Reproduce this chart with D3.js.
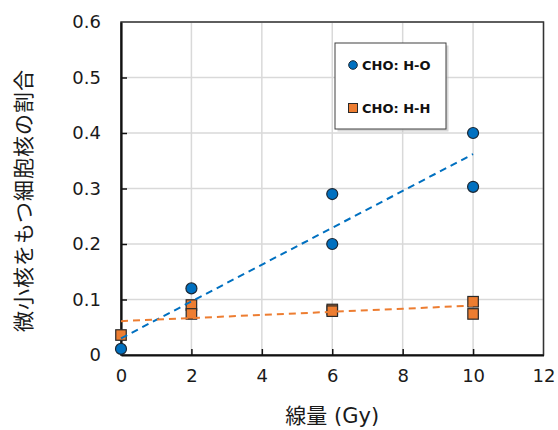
<!DOCTYPE html>
<html>
<head>
<meta charset="utf-8">
<script src="https://cdn.jsdelivr.net/npm/d3@7"></script>
<style>
  html, body { margin: 0; padding: 0; background: #ffffff; }
  svg { display: block; }
</style>
</head>
<body>
<svg id="chart" width="558" height="430"></svg>
<script>
// Dose (Gy) and fraction of nuclei with micronuclei, per cell line
const hoDose  = [0, 2, 6, 6, 10, 10];
const hoRatio = [0.011, 0.120, 0.290, 0.200, 0.400, 0.303];
const hhDose  = [0, 2, 2, 6, 6, 10, 10];
const hhRatio = [0.036, 0.090, 0.074, 0.082, 0.079, 0.096, 0.074];

// Linear trend lines: [intercept, slope]
const hoFit = [0.030, 0.0332];
const hhFit = [0.061, 0.0028];
const fitRange = [0, 10];

const seriesNames = ["CHO: H-O", "CHO: H-H"];
const xTicks = [0, 2, 4, 6, 8, 10, 12];
const yTicks = [0, 0.1, 0.2, 0.3, 0.4, 0.5, 0.6];
const xTitle = "線量 (Gy)";
const yTitle = "微小核をもつ細胞核の割合";

const blue = "#0070C0", orange = "#ED7D31";
const latin = "'DejaVu Sans', Verdana, sans-serif";
const jp = "'DejaVu Sans', 'Noto Sans CJK JP', sans-serif";

const svg = d3.select("#chart");
const plotL = 121, plotR = 543.5, plotT = 22, plotB = 355;

const x = d3.scaleLinear().domain([0, 12]).range([plotL, plotR]);
const y = d3.scaleLinear().domain([0, 0.6]).range([plotB, plotT]);

// gridlines
const grid = svg.append("g");
grid.selectAll("line.h").data(yTicks.slice(1)).join("line")
  .attr("x1", plotL).attr("x2", plotR)
  .attr("y1", d => y(d)).attr("y2", d => y(d))
  .attr("stroke", "#d9d9d9").attr("stroke-width", 1.5);
grid.selectAll("line.v").data(xTicks.slice(1)).join("line")
  .attr("y1", plotT).attr("y2", plotB)
  .attr("x1", d => x(d)).attr("x2", d => x(d))
  .attr("stroke", "#d9d9d9").attr("stroke-width", 1.5);

// frame
svg.append("rect")
  .attr("x", plotL).attr("y", plotT)
  .attr("width", plotR - plotL).attr("height", plotB - plotT)
  .attr("fill", "none").attr("stroke", "#333").attr("stroke-width", 1.5);

// axes with inward ticks
const xAxis = svg.append("g").attr("transform", `translate(0,${plotB})`)
  .call(d3.axisBottom(x).tickValues(xTicks).tickSizeInner(-6).tickSizeOuter(0).tickPadding(14)
    .tickFormat(d3.format("d")));
const yAxis = svg.append("g").attr("transform", `translate(${plotL},0)`)
  .call(d3.axisLeft(y).tickValues(yTicks).tickSizeInner(-6).tickSizeOuter(0).tickPadding(20)
    .tickFormat(d => d === 0 ? "0" : d3.format(".1f")(d)));
[xAxis, yAxis].forEach(a => {
  a.select(".domain").attr("stroke", "#111").attr("stroke-width", 2.2);
  a.selectAll(".tick line").attr("stroke", "#111").attr("stroke-width", 1.5);
  a.selectAll(".tick text").attr("font-family", latin).attr("font-size", 18).attr("fill", "#1a1a1a");
});
xAxis.selectAll(".tick line").filter(d => d === 0 || d === 12).remove();
yAxis.selectAll(".tick line").filter(d => d === 0 || d === 0.6).remove();
xAxis.selectAll(".tick text").attr("dy", "0.71em");

// axis titles
svg.append("text")
  .attr("x", (plotL + plotR) / 2).attr("y", 423)
  .attr("text-anchor", "middle")
  .attr("font-family", jp).attr("font-size", 21).attr("fill", "#1a1a1a")
  .text(xTitle);
svg.append("text")
  .attr("transform", `translate(31,${(plotT + plotB) / 2 + 12}) rotate(-90)`)
  .attr("text-anchor", "middle")
  .attr("font-family", "'Noto Sans CJK JP', sans-serif").attr("font-size", 21)
  .attr("letter-spacing", 1).attr("fill", "#1a1a1a")
  .text(yTitle);

// markers
const ho = hoDose.map((d, i) => ({ d, r: hoRatio[i] }));
const hh = hhDose.map((d, i) => ({ d, r: hhRatio[i] }));

svg.append("g").selectAll("circle").data(ho).join("circle")
  .attr("cx", p => x(p.d)).attr("cy", p => y(p.r)).attr("r", 5.5)
  .attr("fill", blue).attr("stroke", "#1b2733").attr("stroke-width", 1.2);

const sq = 10.5;
svg.append("g").selectAll("rect").data(hh).join("rect")
  .attr("x", p => x(p.d) - sq / 2).attr("y", p => y(p.r) - sq / 2)
  .attr("width", sq).attr("height", sq)
  .attr("fill", orange).attr("stroke", "#2a2a2a").attr("stroke-width", 1.2);

// dashed trend lines
const line = d3.line().x(p => x(p[0])).y(p => y(p[1]));
[[hoFit, blue], [hhFit, orange]].forEach(([f, c]) => {
  svg.append("path")
    .datum(fitRange.map(v => [v, f[0] + f[1] * v]))
    .attr("d", line)
    .attr("fill", "none").attr("stroke", c).attr("stroke-width", 2)
    .attr("stroke-dasharray", "7,5");
});

// legend
const lg = svg.append("g").attr("transform", "translate(335,43)");
lg.append("rect").attr("x", 2.5).attr("y", 2.5).attr("width", 111).attr("height", 86)
  .attr("fill", "#bdbdbd").attr("opacity", 0.6);
lg.append("rect").attr("x", 0).attr("y", 0).attr("width", 111).attr("height", 86)
  .attr("fill", "#ffffff").attr("stroke", "#404040").attr("stroke-width", 1);
lg.append("circle").attr("cx", 18).attr("cy", 22).attr("r", 4.3)
  .attr("fill", blue).attr("stroke", "#1b2733").attr("stroke-width", 1);
lg.append("rect").attr("x", 13.5).attr("y", 60.5).attr("width", 9).attr("height", 9)
  .attr("fill", orange).attr("stroke", "#2a2a2a").attr("stroke-width", 1);
lg.selectAll("text").data(seriesNames).join("text")
  .attr("x", 27).attr("y", (d, i) => i === 0 ? 22 : 65)
  .attr("dy", "0.36em")
  .attr("font-family", latin).attr("font-weight", "bold").attr("font-size", 13)
  .attr("fill", "#111")
  .text(d => d);
</script>
</body>
</html>
